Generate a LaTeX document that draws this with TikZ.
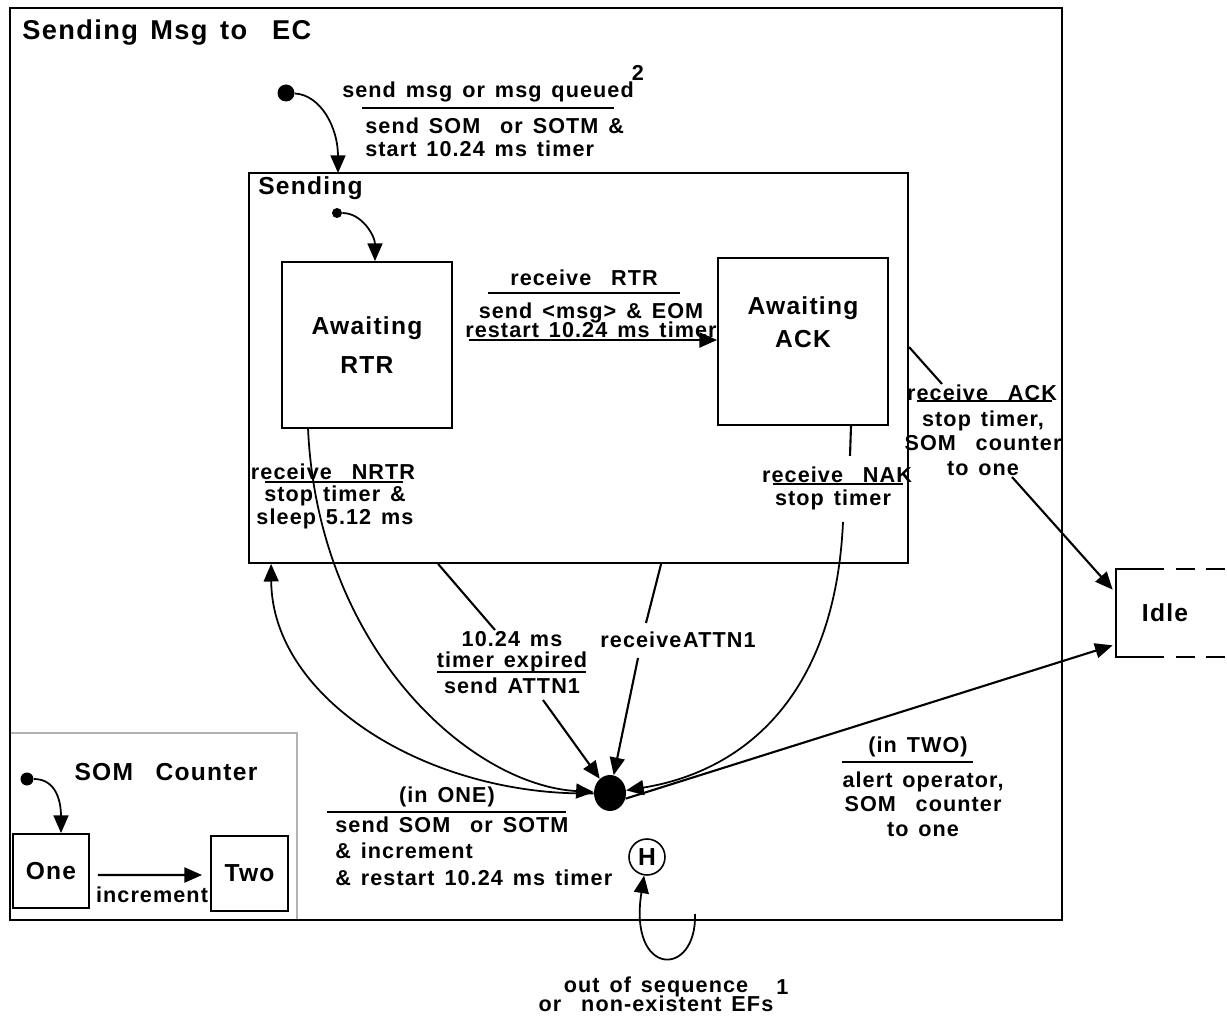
\documentclass[tikz,border=0pt]{standalone}
\usepackage{fontspec}
\setmainfont{Liberation Sans}
\newfontfamily\spaced{Liberation Sans}[LetterSpace=5,WordSpace=1.4]
\usetikzlibrary{shapes.geometric,arrows.meta,positioning,calc}

\begin{document}
\begin{tikzpicture}[x=0.02cm,y=-0.02cm,
  txt/.style={font={\spaced\bfseries\fontsize{12.3}{14}\selectfont},inner sep=0pt,align=center},
  big/.style={font={\spaced\bfseries\fontsize{14}{16}\selectfont},inner sep=0pt,align=center},
  region/.style={draw,line width=1.1pt,inner sep=0pt},
  statebox/.style={draw,line width=1.1pt,big},
  dot/.style={circle,fill,inner sep=0pt},
  arrowtip/.style={-{Triangle[length=10pt,width=8.5pt]}},
  trans/.style={arrowtip,line width=1.2pt},
  curvy/.style={arrowtip,line width=1pt},
  seg/.style={line width=1.2pt},
  ul/.style={line width=1pt}]
\useasboundingbox (0,0) rectangle (1227,1016);
\node[draw=gray!60,line width=1.6pt,inner sep=0pt,minimum width=5.74cm,minimum height=3.74cm] (somreg) at (153.5,826.5) {};
\node[region,minimum width=21.04cm,minimum height=18.24cm] (ec) at (536,464) {};
\node[font={\spaced\bfseries\fontsize{15.5}{18}\selectfont},inner sep=0pt,anchor=west] (ectitle) at (22,33) {Sending Msg to\ \ EC};
\node[region,minimum width=13.18cm,minimum height=7.8cm] (sending) at (578.5,368) {};
\node[big,anchor=west] (sendtitle) at (258,188) {Sending};

\node[statebox,minimum width=3.4cm,minimum height=3.32cm] (rtr) at (367,345) {Awaiting\\[6pt]RTR};
\node[statebox,minimum width=3.4cm,minimum height=3.34cm] (ack) at (803,341.5) {Awaiting\\[3pt]ACK\\[6pt]};
\node[big,minimum width=1.96cm,minimum height=1.76cm] (idle) at (1165,613) {Idle};
\node[dot,ellipse,minimum width=0.64cm,minimum height=0.72cm] (jn) at (610,793) {};
\node[draw,circle,line width=0.9pt,inner sep=0pt,minimum size=0.72cm,font={\bfseries\fontsize{14}{16}\selectfont}] (hist) at (647,857) {H};

\draw[line width=1.1pt] ($(idle.north west)+(48,0)$) -- (idle.north west) -- (idle.south west) -- ($(idle.south west)+(48,0)$);
\draw[line width=1.1pt,dash pattern=on 11pt off 6pt] ($(idle.north west)+(60,0)$) -- ++(60,0);
\draw[line width=1.1pt,dash pattern=on 11pt off 6pt] ($(idle.south west)+(60,0)$) -- ++(60,0);

\node[dot,minimum size=0.34cm] (init) at (286,93) {};
\coordinate (sendin) at (338,173);
\draw[curvy] (init) .. controls +(35,2) and +(0,-45) .. (sendin);
\node[txt] (sendq) at (488,92) {send msg or msg queued};
\node[txt] (sup2) at (638,73) {2};
\draw[ul] ($(sendq.center)+(-126,16)$) -- ++(252,0);
\node[txt,align=left,anchor=west] (sendact) at (365,137) {send SOM\ \ or SOTM \&\\[-1pt]start 10.24 ms timer};

\node[dot,minimum size=0.2cm] (init2) at (337,213) {};
\draw[curvy] (init2) .. controls +(25,0) and +(0,-25) .. ($(rtr.north)+(8,0)$);

\coordinate (rtrout) at (469,340);
\draw[trans] (rtrout) -- (rtrout -| ack.west);
\node[txt] (rtrg) at (584,278) {receive\ \ RTR};
\draw[ul] ($(rtrg.center)+(-96,15)$) -- ++(192,0);
\node[txt] (rtract) at (591,320) {send <msg> \& EOM\\[-3pt]restart 10.24 ms timer};

\coordinate (ackout) at (909,347);
\coordinate (ackmid) at (942,384);
\draw[seg] (ackout) -- (ackmid);
\node[txt] (ackg) at (982,393) {receive\ \ ACK};
\draw[ul] ($(ackg.center)+(-65,8)$) -- ++(135,0);
\node[txt] (ackact) at (983,443) {stop timer,\\SOM\ \ counter\\to one};
\coordinate (ackres) at (1012,477);
\draw[trans] (ackres) -- ($(idle.north west)+(-3,21)$);

\coordinate (nakout) at ($(ack.south)+(48,0)$);
\draw[seg] (nakout) -- ++(-1,30);
\node[txt] (nakg) at (837,475) {receive\ \ NAK};
\draw[ul] ($(nakg.center)+(-64,9)$) -- ++(130,0);
\node[txt] (nakact) at (833,500) {stop timer};
\coordinate (nakres) at (843,522);
\draw[curvy] (nakres) .. controls (835,700) and (740,772) .. (jn);

\draw[curvy] ($(rtr.south west)+(27,0)$) .. controls +(10,220) and +(-140,-8) .. (jn);
\node[txt] (nrtrg) at (333,472) {receive\ \ NRTR};
\draw[ul] ($(nrtrg.center)+(-68,10)$) -- ++(138,0);
\node[txt] (nrtract) at (335,507) {stop timer \&\\[-1pt]sleep 5.12 ms};

\draw[curvy] (jn) .. controls (430,797) and (272,700) .. ($(sending.south west)+(23,0)$);

\coordinate (tmrout) at ($(sending.south west)+(190,0)$);
\coordinate (tmrmid) at (495,630);
\draw[seg] (tmrout) -- (tmrmid);
\node[txt] (tmrg) at (512,652) {10.24 ms\\[-2pt]timer expired};
\draw[ul] ($(tmrg.center)+(-75,20)$) -- ++(149,0);
\node[txt] (tmract) at (512,686) {send ATTN1};
\coordinate (tmrres) at (543,700);
\draw[trans] (tmrres) -- (jn);

\coordinate (attnout) at ($(sending.south west)+(413,0)$);
\coordinate (attnmid) at (646,623);
\draw[seg] (attnout) -- (attnmid);
\node[txt] (attng) at (678,640) {receive\kern1pt ATTN1};
\coordinate (attnres) at (638,658);
\draw[trans] (attnres) -- (jn);

\node[txt] (oneg) at (447,797) {(in ONE)};
\draw[ul] ($(oneg.center)+(-120,15)$) -- ++(239,0);
\node[txt,align=left,anchor=west] (oneact) at (335,851) {send SOM\ \ or SOTM\\[1pt]\& increment\\[1pt]\& restart 10.24 ms timer};

\draw[trans] (jn.-20) -- ($(idle.south west)+(-3,-12)$);
\node[txt] (twog) at (918,747) {(in TWO)};
\draw[ul] ($(twog.center)+(-76,15)$) -- ++(131,0);
\node[txt] (twoact) at (923,804) {alert operator,\\SOM\ \ counter\\to one};

\coordinate (hloop) at (695,914);
\draw[curvy] (hloop) .. controls (697,978) and (628,978) .. (hist);
\node[txt] (seqlbl) at (656,994) {out of sequence\\[-3pt]or\ \ non-existent EFs};
\node[txt,anchor=south west] (sup1) at (776,995) {1};

\node[big] (somtitle) at (166,772) {SOM\ \ Counter};
\node[dot,minimum size=0.26cm] (init3) at (27,779) {};
\node[statebox,minimum width=1.52cm,minimum height=1.48cm] (one) at (51,871) {One};
\node[statebox,minimum width=1.54cm,minimum height=1.5cm] (two) at (249.5,873.5) {Two};
\draw[curvy] (init3) .. controls +(30,0) and +(0,-30) .. ($(one.north)+(10,0)$);
\draw[trans] ($(one.east)+(8,4)$) -- ($(two.west)+(-8,1.5)$);
\node[txt] (inc) at (152,895) {increment};
\end{tikzpicture}
\end{document}
